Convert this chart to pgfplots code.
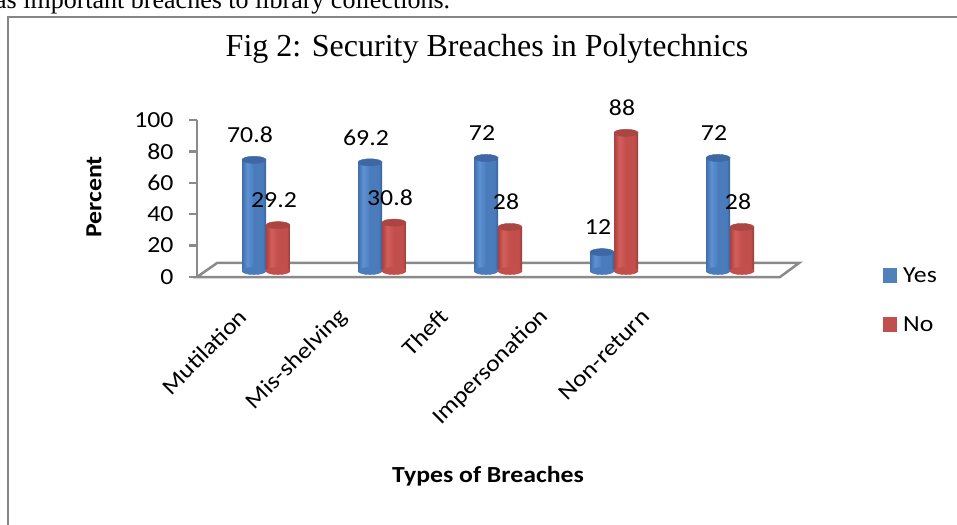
\documentclass[border=0pt]{standalone}
\usepackage{pgfplots}
\pgfplotsset{compat=1.18}
\usepackage{fontspec}
\setmainfont{Carlito}[FakeStretch=1.12]
\newfontfamily\serif{Liberation Serif}
\newcommand\lbl{\fontsize{23}{27}\selectfont}
\definecolor{axgray}{HTML}{8A8A8A}
\definecolor{framegray}{HTML}{858585}
\definecolor{blueD}{HTML}{416DAB}
\definecolor{blueL}{HTML}{5E92D4}
\definecolor{blueM}{HTML}{4A7CBC}
\definecolor{blueR}{HTML}{38619A}
\definecolor{redD}{HTML}{A8413F}
\definecolor{redL}{HTML}{D35E5B}
\definecolor{redM}{HTML}{C24F4C}
\definecolor{redR}{HTML}{973936}
\definecolor{capB}{HTML}{3D68A5}
\definecolor{capR}{HTML}{AB4542}
\definecolor{legB}{HTML}{4F81BD}
\definecolor{legR}{HTML}{C0504D}
\pgfdeclarehorizontalshading{cylB}{100bp}{color(0bp)=(blueD); color(25bp)=(blueD); color(36bp)=(blueL); color(50bp)=(blueM); color(68bp)=(blueM); color(75bp)=(blueR); color(100bp)=(blueR)}
\pgfdeclarehorizontalshading{cylR}{100bp}{color(0bp)=(redD); color(25bp)=(redD); color(36bp)=(redL); color(50bp)=(redM); color(68bp)=(redM); color(75bp)=(redR); color(100bp)=(redR)}
\pgfplotsset{/pgf/number format/assume math mode=true}
\begin{document}
\begin{tikzpicture}
\path[use as bounding box] (0,0) rectangle (957pt,-524pt);
\clip (0,0) rectangle (957pt,-524pt);
\node[anchor=base west, font=\serif\fontsize{26}{30}\selectfont, inner sep=0pt] at (-5pt,-8.5pt) {as important breaches to library collections.};
\draw[framegray, line width=2.5pt] (8pt,-540pt) -- (8pt,-17pt) -- (970pt,-17pt);
\node[anchor=base, font=\serif\fontsize{32}{38}\selectfont, inner sep=0pt] at (487pt,-56.7pt) {Fig 2: Security Breaches in Polytechnics};

\begin{axis}[
 at={(197pt,-277pt)}, anchor=south west, scale only axis, width=507.1pt, height=157pt,
 xmin=-0.457, xmax=4.579, ymin=0, ymax=100,
 axis lines*=left, x axis line style={draw=none},
 y axis line style={draw=axgray, line width=2.5pt},
 ytick={0,20,...,100}, tick align=outside, major tick length=8pt,
 ytick style={draw=axgray, line width=2.5pt},
 xtick={0,...,4}, xticklabels={Mutilation,Mis-shelving,Theft,Impersonation,Non-return},
 xtick style={draw=none},
 x tick label style={yshift=-28pt, rotate=45, anchor=east, inner sep=0pt},
 y tick label style={xshift=-12pt},
 tick label style={font=\lbl},
 xlabel={Types of Breaches}, ylabel={Percent},
 every axis x label/.style={at={(axis description cs:0.5738,-1.2675)}, anchor=center, font=\lbl\bfseries},
 every axis y label/.style={at={(axis description cs:-0.2031,0.5096)}, anchor=center, rotate=90, font=\lbl\bfseries},
]
\end{axis}

\begin{axis}[
 at={(196.4pt,-278.85pt)}, anchor=south west, scale only axis, width=603.2pt, height=164.85pt,
 xmin=-0.6, xmax=4.6, ymin=-5, ymax=100, hide axis, clip=false,
 legend style={at={(axis description cs:1.1383,0.07)}, anchor=north west, draw=none, fill=none, font=\lbl, row sep=33pt, column sep=6pt, inner sep=0pt, nodes={inner sep=0pt}},
 legend cell align=left,
 legend image code/.code={\fill[#1] (0pt,-7.5pt) rectangle (14pt,7.5pt);},
]
\addplot[fill=white, draw=axgray, line width=2.5pt, forget plot] coordinates {(-0.595,-3.82) (4.431,-3.82) (4.595,5.1) (-0.422,5.1)} -- cycle;
% bottom ellipses
\addplot[only marks, mark=*, mark size=12pt, mark options={yscale=0.3, draw=blueM, fill=blueM}, forget plot] coordinates {(-0.1034,0) (0.8966,0) (1.8966,0) (2.8966,0) (3.8966,0)};
\addplot[only marks, mark=*, mark size=12pt, mark options={yscale=0.3, draw=redM, fill=redM}, forget plot] coordinates {(0.1034,0) (1.1034,0) (2.1034,0) (3.1034,0) (4.1034,0)};
% Yes cylinders
\addplot[ybar, bar width=24pt, bar shift=0pt, draw=none, shade, shading=cylB, forget plot] coordinates {(-0.1034,70.8)};
\addplot[ybar, bar width=24pt, bar shift=0pt, draw=none, shade, shading=cylB, forget plot] coordinates {(0.8966,69.2)};
\addplot[ybar, bar width=24pt, bar shift=0pt, draw=none, shade, shading=cylB, forget plot] coordinates {(1.8966,72)};
\addplot[ybar, bar width=24pt, bar shift=0pt, draw=none, shade, shading=cylB, forget plot] coordinates {(2.8966,12)};
\addplot[ybar, bar width=24pt, bar shift=0pt, draw=none, shade, shading=cylB, forget plot] coordinates {(3.8966,72)};
% No cylinders
\addplot[ybar, bar width=24pt, bar shift=0pt, draw=none, shade, shading=cylR, forget plot] coordinates {(0.1034,29.2)};
\addplot[ybar, bar width=24pt, bar shift=0pt, draw=none, shade, shading=cylR, forget plot] coordinates {(1.1034,30.8)};
\addplot[ybar, bar width=24pt, bar shift=0pt, draw=none, shade, shading=cylR, forget plot] coordinates {(2.1034,28)};
\addplot[ybar, bar width=24pt, bar shift=0pt, draw=none, shade, shading=cylR, forget plot] coordinates {(3.1034,88)};
\addplot[ybar, bar width=24pt, bar shift=0pt, draw=none, shade, shading=cylR, forget plot] coordinates {(4.1034,28)};
% caps and value labels
\addplot[only marks, mark=*, mark size=12pt, mark options={yscale=0.3, draw=capB, fill=capB}, nodes near coords, nodes near coords style={font=\lbl, text=black, anchor=center, yshift=25pt, xshift=-4pt}, forget plot] coordinates {(-0.1034,70.8) (0.8966,69.2) (1.8966,72) (2.8966,12) (3.8966,72)};
\addplot[only marks, mark=*, mark size=12pt, mark options={yscale=0.3, draw=capR, fill=capR}, nodes near coords, nodes near coords style={font=\lbl, text=black, anchor=center, yshift=25pt, xshift=-4pt}, forget plot] coordinates {(0.1034,29.2) (1.1034,30.8) (2.1034,28) (3.1034,88) (4.1034,28)};
\addlegendimage{fill=legB, draw=none}
\addlegendentry{Yes}
\addlegendimage{fill=legR, draw=none}
\addlegendentry{No}
\end{axis}
\end{tikzpicture}
\end{document}
